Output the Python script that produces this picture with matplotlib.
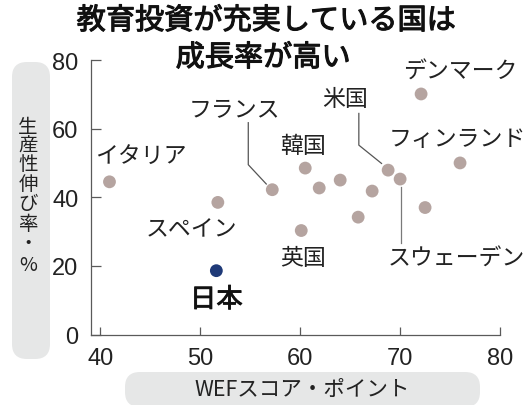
import matplotlib
matplotlib.use("Agg")
import matplotlib.pyplot as plt
import matplotlib.patheffects as pe
from matplotlib.patches import FancyBboxPatch
from matplotlib.lines import Line2D
from matplotlib.transforms import IdentityTransform

# ---- data -------------------------------------------------------------
countries = ["イタリア", "スペイン", "日本", "フランス", "韓国", "英国",
             "", "", "", "", "米国", "スウェーデン", "", "フィンランド", "デンマーク"]
wef_score = [40.9, 51.75, 51.6, 57.2, 60.5, 60.1, 61.9, 64.0, 65.8, 67.2,
             68.8, 70.0, 72.5, 76.0, 72.1]
productivity = [44.5, 38.5, 18.6, 42.2, 48.5, 30.3, 42.7, 45.0, 34.2, 41.8,
                47.9, 45.3, 37.0, 50.0, 70.1]
highlight = "日本"

x_ticks = [40, 50, 60, 70, 80]
y_ticks = [0, 20, 40, 60, 80]

title_lines = ["教育投資が充実している国は", "成長率が高い"]
y_label = "生産性伸び率・%"
x_label = "WEFスコア・ポイント"

# ---- style ------------------------------------------------------------
JP = ["Noto Sans CJK JP", "DejaVu Sans"]
NUM = ["Liberation Sans Narrow", "Liberation Sans", "DejaVu Sans"]
TEXT_COLOR = "#222222"
DOT_COLOR = "#b5a4a0"
HIGHLIGHT_COLOR = "#1f3a78"
BOX_COLOR = "#e6e7e7"
AXIS_COLOR = "#5a5a5a"

W, H = 531, 406
fig = plt.figure(figsize=(W / 100, H / 100), dpi=100)
fig.patch.set_facecolor("white")


def fx(px):
    return px / W


def fy(py):
    return 1 - py / H


def heavier(width, color):
    return [pe.withStroke(linewidth=width, foreground=color)]


# axes: left spine at x=91, x=80 at 500; y=0 at 335.5, y=80 at 61
ax = fig.add_axes([fx(91), fy(335.5), fx(500) - fx(91), fy(61) - fy(335.5)])
ax.set_xlim(39.05, 80)
ax.set_ylim(0, 80)
for side in ("top", "right"):
    ax.spines[side].set_visible(False)
for side in ("left", "bottom"):
    ax.spines[side].set_color(AXIS_COLOR)
    ax.spines[side].set_linewidth(0.9)

ax.set_xticks(x_ticks)
ax.set_yticks(y_ticks)
ax.tick_params(axis="y", direction="in", length=7, width=0.9, color=AXIS_COLOR,
               pad=9, labelsize=17, labelcolor=TEXT_COLOR)
ax.tick_params(axis="x", direction="in", length=6, width=0.9, color=AXIS_COLOR,
               pad=9, labelsize=17, labelcolor=TEXT_COLOR)
for lab in ax.get_xticklabels() + ax.get_yticklabels():
    lab.set_family(NUM)

# ---- points -----------------------------------------------------------
colors = [HIGHLIGHT_COLOR if c == highlight else DOT_COLOR for c in countries]
ax.scatter(wef_score, productivity, s=85, c=colors, linewidths=0, zorder=3,
           clip_on=False)

# label placement (pixel offsets from each point)
label_offsets = {
    "イタリア": (31, 25, "center"),
    "スペイン": (-26, -26, "center"),
    "日本": (0, -29, "center"),
    "フランス": (-38, 81, "center"),
    "韓国": (-2, 23, "center"),
    "英国": (2, -27, "center"),
    "米国": (-43, 72, "center"),
    "スウェーデン": (-12, -79, "left"),
    "フィンランド": (-3, 24, "center"),
    "デンマーク": (39, 23, "center"),
}
for name, x, y in zip(countries, wef_score, productivity):
    if not name:
        continue
    dx, dy, ha = label_offsets[name]
    big = name == highlight
    t = ax.annotate(name, xy=(x, y), xytext=(dx, dy), textcoords="offset pixels",
                    ha=ha, va="center", family=JP,
                    color="#111111" if big else TEXT_COLOR,
                    fontsize=19 if big else 16.5, annotation_clip=False)
    if big:
        t.set_path_effects(heavier(0.6, "#111111"))

# leader lines (pixel offsets from the point)
leaders = {
    "フランス": [(-24, 67), (-24, 25), (-6, 5.7)],
    "米国": [(-29.3, 56.7), (-29.3, 25), (-6.6, 6.7)],
    "スウェーデン": [(0.7, -8), (0.7, -64)],
}
for name, path in leaders.items():
    i = countries.index(name)
    px, py = ax.transData.transform((wef_score[i], productivity[i]))
    xs = [px + dx for dx, dy in path]
    ys = [py + dy for dx, dy in path]
    fig.add_artist(Line2D(xs, ys, transform=IdentityTransform(),
                          color="#555555" if name != "スウェーデン" else "#7a7a7a",
                          linewidth=0.9))

# ---- axis label boxes -------------------------------------------------
ybox = FancyBboxPatch((12, H - 360), 38, 297,
                      boxstyle="round,pad=0,rounding_size=15",
                      transform=IdentityTransform(), facecolor=BOX_COLOR,
                      edgecolor="none", zorder=0)
xbox = FancyBboxPatch((125, H - 408), 355, 35,
                      boxstyle="round,pad=0,rounding_size=15",
                      transform=IdentityTransform(), facecolor=BOX_COLOR,
                      edgecolor="none", zorder=0)
fig.add_artist(ybox)
fig.add_artist(xbox)

# vertical (stacked) y-axis label
y_centers = [127, 146, 165, 185, 205, 225, 244, 266]
for ch, cy in zip(y_label, y_centers):
    fig.text(fx(28), fy(cy), ch, family=JP, fontsize=14, color=TEXT_COLOR,
             ha="center", va="center")

fig.text(fx(302), fy(390), x_label, family=JP, fontsize=15.5, color=TEXT_COLOR,
         ha="center", va="center")

# ---- title ------------------------------------------------------------
for line, (cx, cy) in zip(title_lines, [(266, 22), (263, 59)]):
    t = fig.text(fx(cx), fy(cy), line, family=JP, fontsize=21,
                 color="#111111", ha="center", va="center")
    t.set_path_effects(heavier(0.8, "#111111"))

fig.savefig("out.png", dpi=100)
